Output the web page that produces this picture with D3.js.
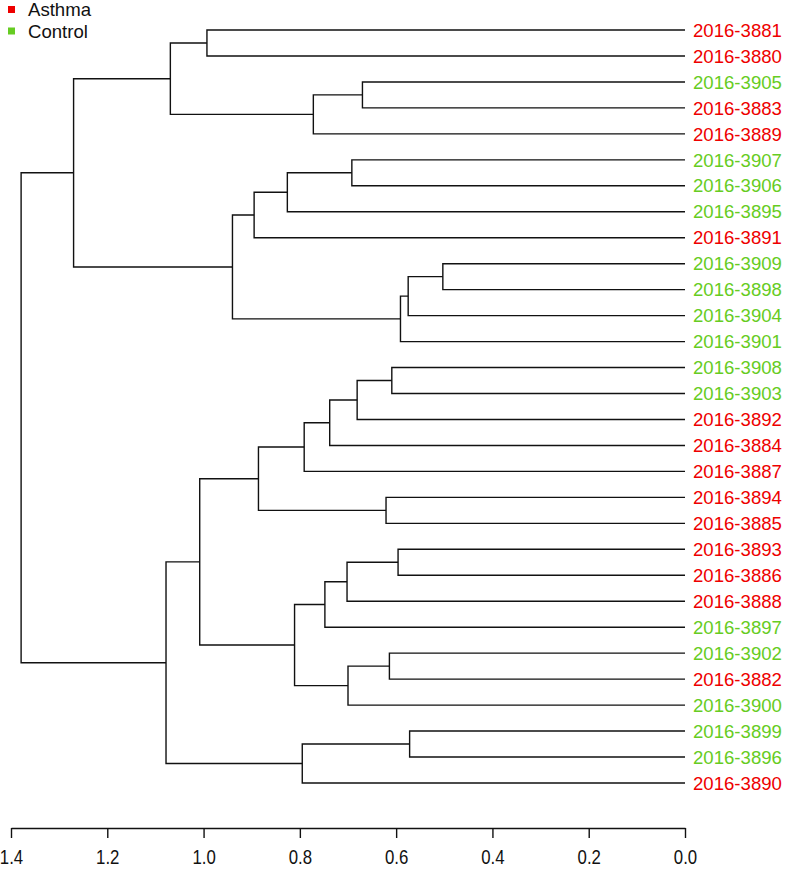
<!DOCTYPE html>
<html>
<head>
<meta charset="utf-8">
<script src="https://cdn.jsdelivr.net/npm/d3@7"></script>
<style>
  html, body { margin: 0; padding: 0; background: #fff; }
  svg { display: block; font-family: "Liberation Sans", Arial, Helvetica, sans-serif; }
</style>
</head>
<body>
<svg id="chart" width="787" height="872"></svg>
<script>
// ---- Data ----
const labels = ["2016-3881","2016-3880","2016-3905","2016-3883","2016-3889","2016-3907","2016-3906","2016-3895","2016-3891","2016-3909","2016-3898","2016-3904","2016-3901","2016-3908","2016-3903","2016-3892","2016-3884","2016-3887","2016-3894","2016-3885","2016-3893","2016-3886","2016-3888","2016-3897","2016-3902","2016-3882","2016-3900","2016-3899","2016-3896","2016-3890"];
const groups = ["Asthma","Asthma","Control","Asthma","Asthma","Control","Control","Control","Asthma","Control","Control","Control","Control","Control","Control","Asthma","Asthma","Asthma","Asthma","Asthma","Asthma","Asthma","Asthma","Control","Control","Asthma","Control","Control","Control","Asthma"];
// hclust-style merge matrix: negative = leaf (1-based), positive = earlier merge row (1-based)
const mergeA = [-1,-3,2,1,-6,5,6,-10,8,9,7,4,-14,13,14,15,-19,16,-21,19,20,-25,22,21,18,-28,26,25,12];
const mergeB = [-2,-4,-5,3,-7,-8,-9,-11,-12,-13,10,11,-15,-16,-17,-18,-20,17,-22,-23,-24,-26,-27,23,24,-29,-30,27,28];
const mergeHeight = [0.993,0.670,0.772,1.069,0.692,0.826,0.895,0.503,0.575,0.591,0.940,1.270,0.609,0.681,0.738,0.791,0.621,0.886,0.596,0.702,0.748,0.614,0.700,0.811,1.008,0.572,0.795,1.078,1.379];
const tickValues = [1.4,1.2,1.0,0.8,0.6,0.4,0.2,0.0];
const legendKeys = ["Asthma","Control"];
const groupColors = ["#ee0000","#66cc22"];

// ---- Build tree ----
const rows = [];
function ref(v) {
  return v < 0 ? { name: labels[-v - 1], group: groups[-v - 1], h: 0 } : rows[v - 1];
}
for (let i = 0; i < mergeHeight.length; i++) {
  rows.push({ h: mergeHeight[i], children: [ref(mergeA[i]), ref(mergeB[i])] });
}
const root = d3.hierarchy(rows[rows.length - 1]);

const svg = d3.select("#chart");
const x = d3.scaleLinear().domain([1.4, 0]).range([11, 685]);
const y = d3.scalePoint().domain(labels).range([30, 783]);
const color = d3.scaleOrdinal().domain(legendKeys).range(groupColors);

root.eachAfter(n => {
  if (!n.children) n.py = y(n.data.name);
  else n.py = d3.mean(n.children, c => c.py);
});

// ---- Links ----
const g = svg.append("g");
root.each(n => {
  if (!n.children) return;
  const [a, b] = n.children;
  const p = d3.path();
  p.moveTo(x(a.data.h), a.py);
  p.lineTo(x(n.data.h), a.py);
  p.lineTo(x(n.data.h), b.py);
  p.lineTo(x(b.data.h), b.py);
  g.append("path").attr("d", p.toString())
    .attr("fill", "none").attr("stroke", "#111").attr("stroke-width", 1.4);
});

// ---- Leaf labels ----
svg.append("g").selectAll("text")
  .data(root.leaves())
  .join("text")
  .attr("x", 693)
  .attr("y", d => d.py)
  .attr("dy", "0.36em")
  .attr("font-size", 18.6)
  .attr("fill", d => color(d.data.group))
  .text(d => d.data.name);

// ---- Axis ----
const axis = d3.axisBottom(x).tickValues(tickValues).tickFormat(d3.format(".1f"))
  .tickSizeInner(10).tickSizeOuter(0).tickPadding(11);
const ag = svg.append("g").attr("transform", "translate(0,828)").call(axis);
ag.select(".domain").attr("stroke", "#111").attr("stroke-width", 1.4);
ag.selectAll(".tick line").attr("stroke", "#111").attr("stroke-width", 1.4);
ag.selectAll(".tick text")
  .attr("font-size", 21)
  .attr("font-family", "'Liberation Sans Narrow', 'Liberation Sans', Arial, sans-serif")
  .attr("fill", "#111")
  .attr("transform", "scale(0.8,1)");

// ---- Legend ----
const lg = svg.append("g").selectAll("g").data(legendKeys).join("g")
  .attr("transform", (d, i) => `translate(0,${9.5 + i * 21.5})`);
lg.append("rect").attr("x", 8).attr("y", -3.5).attr("width", 7).attr("height", 7)
  .attr("fill", d => color(d));
lg.append("text").attr("x", 28).attr("y", 0).attr("dy", "0.36em")
  .attr("font-size", 18.6).attr("fill", "#111").text(d => d);
</script>
</body>
</html>
